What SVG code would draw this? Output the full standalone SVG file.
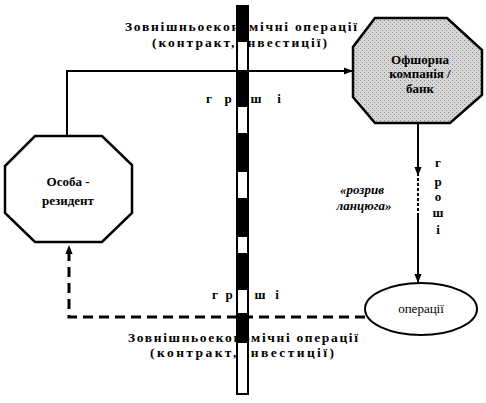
<svg xmlns="http://www.w3.org/2000/svg" width="486" height="403" viewBox="0 0 486 403">
<style>
.ln{fill:none;stroke:#000;stroke-width:2}
.dash{fill:none;stroke:#000;stroke-width:3;stroke-dasharray:10 6}
.node{stroke:#000;stroke-width:2.5}
.lbl{font-family:"Liberation Serif","Times New Roman",serif;font-weight:bold;font-size:13.5px;fill:#000}
.nt{font-family:"Liberation Serif","Times New Roman",serif;font-weight:bold;font-size:13px;fill:#000;text-anchor:middle}
.gr{font-family:"Liberation Serif","Times New Roman",serif;font-weight:bold;font-size:13px;fill:#000;text-anchor:middle}
.it{font-family:"Liberation Serif","Times New Roman",serif;font-weight:bold;font-style:italic;font-size:13px;fill:#000;text-anchor:middle}
</style>
<defs>
<marker id="ah" viewBox="0 0 10 10" refX="10" refY="5" markerWidth="9" markerHeight="9" markerUnits="userSpaceOnUse" orient="auto-start-reverse">
<path d="M0,1 L10,5 L0,9 z" fill="#000"/>
</marker>
<pattern id="stip" width="4" height="4" patternUnits="userSpaceOnUse">
<rect width="4" height="4" fill="#d6d6d6"/>
<rect x="0" y="0" width="1" height="1" fill="#8a8a8a"/>
<rect x="2" y="2" width="1" height="1" fill="#9a9a9a"/>
</pattern>
</defs>

<g id="labels">
<text class="lbl" x="125" y="31" textLength="232" lengthAdjust="spacing">Зовнішньоекономічні операції</text>
<text class="lbl" x="152" y="47" textLength="175" lengthAdjust="spacing">(контракт, інвестиції)</text>
<text class="gr" x="209" y="103">г</text>
<text class="gr" x="228" y="103">р</text>
<text class="gr" x="242" y="103">о</text>
<text class="gr" x="256" y="103">ш</text>
<text class="gr" x="279" y="103">і</text>
<text class="gr" x="215" y="299">г</text>
<text class="gr" x="229" y="299">р</text>
<text class="gr" x="243" y="299">о</text>
<text class="gr" x="260" y="299">ш</text>
<text class="gr" x="277" y="299">і</text>
<text class="lbl" x="128" y="342" textLength="230" lengthAdjust="spacing">Зовнішньоекономічні операції</text>
<text class="lbl" x="150" y="357" textLength="184" lengthAdjust="spacing">(контракт, інвестиції)</text>
<text class="it" x="362" y="194">«розрив</text>
<text class="it" x="364" y="210">ланцюга»</text>
<text class="gr" x="438" y="167">г</text>
<text class="gr" x="438" y="186">р</text>
<text class="gr" x="438" y="201">о</text>
<text class="gr" x="438" y="217">ш</text>
<text class="gr" x="438" y="234">і</text>
</g>

<g id="connectors">
<path class="ln" d="M67,135 L67,71 L353,71" marker-end="url(#ah)"/>
<path class="ln" d="M418,123 L418,176" marker-end="url(#ah)"/>
<path d="M418,178 L418,215" fill="none" stroke="#000" stroke-width="2" stroke-dasharray="3 2"/>
<path class="ln" d="M418,215 L418,283" marker-end="url(#ah)"/>
<path class="dash" d="M365,317 L69,317 L69,245" marker-end="url(#ah)"/>
</g>

<g id="bar">
<rect x="236" y="5" width="13" height="390" fill="#000"/>
<rect x="238" y="42" width="9" height="28" fill="#fff"/>
<rect x="238" y="107" width="9" height="26" fill="#fff"/>
<rect x="238" y="172" width="9" height="26" fill="#fff"/>
<rect x="238" y="237" width="9" height="16" fill="#fff"/>
<rect x="238" y="290" width="9" height="23" fill="#fff"/>
<rect x="238" y="343" width="9" height="50" fill="#fff"/>
</g>

<g id="resident">
<polygon class="node" fill="#fff" points="35,136 102,136 132,165 132,213 102,242 35,242 5,213 5,166"/>
<text class="nt" x="68" y="186">Особа -</text>
<text class="nt" x="68" y="205">резидент</text>
</g>

<g id="offshore">
<polygon class="node" fill="url(#stip)" points="375,18 447,18 482,50 482,95 450,123 375,123 353,97 353,47"/>
<text class="nt" x="420" y="64">Офшорна</text>
<text class="nt" x="420" y="78">компанія /</text>
<text class="nt" x="420" y="93">банк</text>
</g>

<g id="operations">
<ellipse cx="421" cy="309" rx="56" ry="26" fill="#fff" stroke="#000" stroke-width="2"/>
<text x="421" y="313" text-anchor="middle" style="font-family:'Liberation Serif','Times New Roman',serif;font-size:13px">операції</text>
</g>
</svg>
